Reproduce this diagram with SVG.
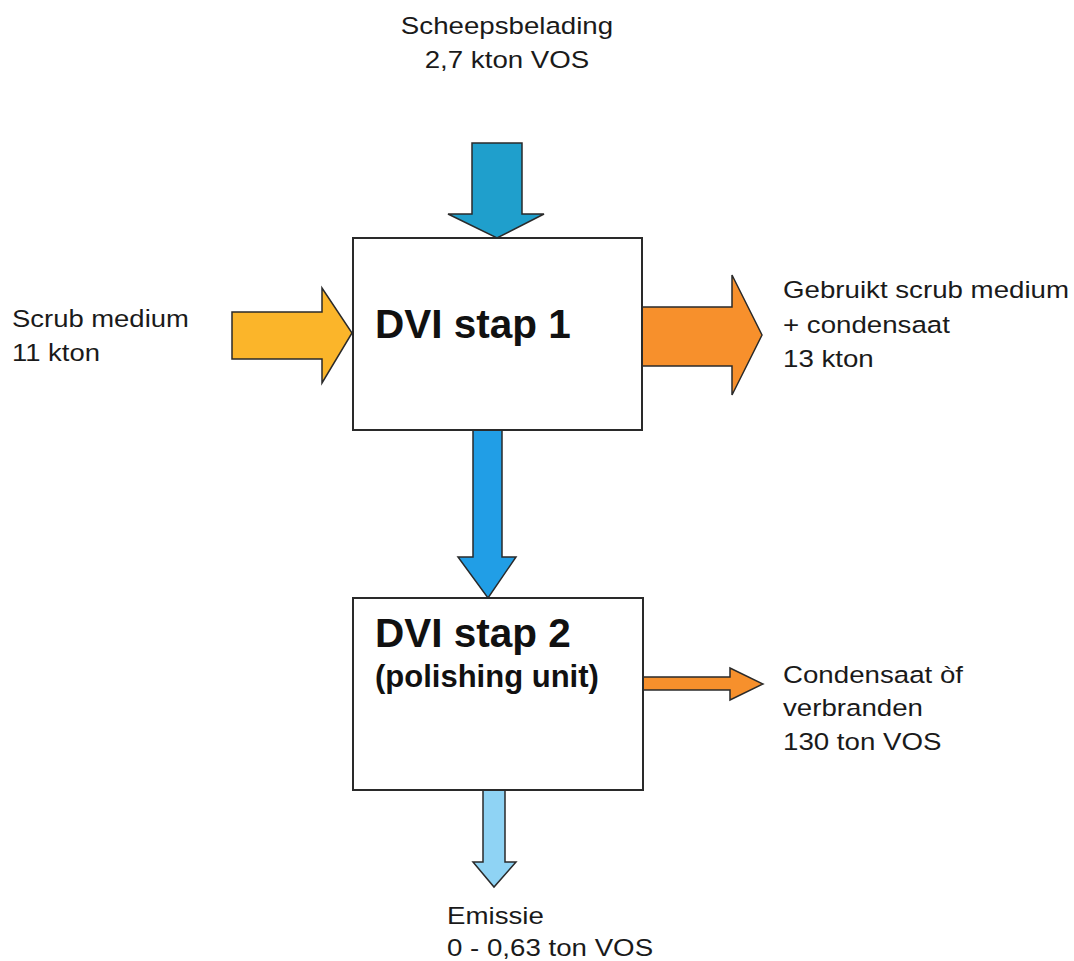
<svg xmlns="http://www.w3.org/2000/svg" width="1074" height="961" viewBox="0 0 1074 961">
<style>
.box{fill:#fff;stroke:#2a2a2a;stroke-width:2}
.arr{stroke:#2a2a2a;stroke-width:1.5;stroke-linejoin:miter}
.lbl{font-family:"Liberation Sans",Arial,sans-serif;font-size:24.5px;fill:#1a1a1a}
.big{font-family:"Liberation Sans",Arial,sans-serif;font-weight:bold;font-size:40.5px;fill:#111}
.sub{font-family:"Liberation Sans",Arial,sans-serif;font-weight:bold;font-size:31px;fill:#111}
</style>
<rect width="1074" height="961" fill="#fff"/>
<g id="connectors">
<polygon class="arr" fill="#1f9fcc" points="472,143 522,143 522,214 544,214 497,238 448,214 472,214"/>
<polygon class="arr" fill="#fbb52a" points="232,312 322,312 322,288 352,333 322,383 322,359 232,359"/>
<polygon class="arr" fill="#f7902c" points="642,307 732,307 732,275 762,335 732,395 732,366 642,366"/>
<polygon class="arr" fill="#219ee6" points="473,430 502,430 502,557 516,557 488,598 458,557 473,557"/>
<polygon class="arr" fill="#f7902c" points="643,677 730,677 730,668 763,684 730,700 730,690 643,690"/>
<polygon class="arr" fill="#8fd3f4" points="483,790 505,790 505,862 516,862 494,887 473,862 483,862"/>
</g>
<g id="stap1">
<rect class="box" x="353" y="238" width="289" height="192"/>
<text class="big" x="375" y="338">DVI stap 1</text>
</g>
<g id="stap2">
<rect class="box" x="353" y="598" width="290" height="192"/>
<text class="big" x="375" y="647">DVI stap 2</text>
<text class="sub" x="375" y="687">(polishing unit)</text>
</g>
<g id="scheepsbelading">
<text class="lbl" transform="translate(507,34) scale(1.13,1)" text-anchor="middle">Scheepsbelading</text>
<text class="lbl" transform="translate(507,68) scale(1.13,1)" text-anchor="middle">2,7 kton VOS</text>
</g>
<g id="scrub">
<text class="lbl" transform="translate(12,327) scale(1.12,1)">Scrub medium</text>
<text class="lbl" transform="translate(12,361) scale(1.12,1)">11 kton</text>
</g>
<g id="gebruikt">
<text class="lbl" transform="translate(783,298) scale(1.13,1)">Gebruikt scrub medium</text>
<text class="lbl" transform="translate(783,333) scale(1.13,1)">+ condensaat</text>
<text class="lbl" transform="translate(783,367) scale(1.13,1)">13 kton</text>
</g>
<g id="condensaat">
<text class="lbl" transform="translate(783,683) scale(1.13,1)">Condensaat òf</text>
<text class="lbl" transform="translate(783,716) scale(1.13,1)">verbranden</text>
<text class="lbl" transform="translate(783,750) scale(1.13,1)">130 ton VOS</text>
</g>
<g id="emissie">
<text class="lbl" transform="translate(447,924) scale(1.13,1)">Emissie</text>
<text class="lbl" transform="translate(447,956) scale(1.13,1)">0 - 0,63 ton VOS</text>
</g>
</svg>
